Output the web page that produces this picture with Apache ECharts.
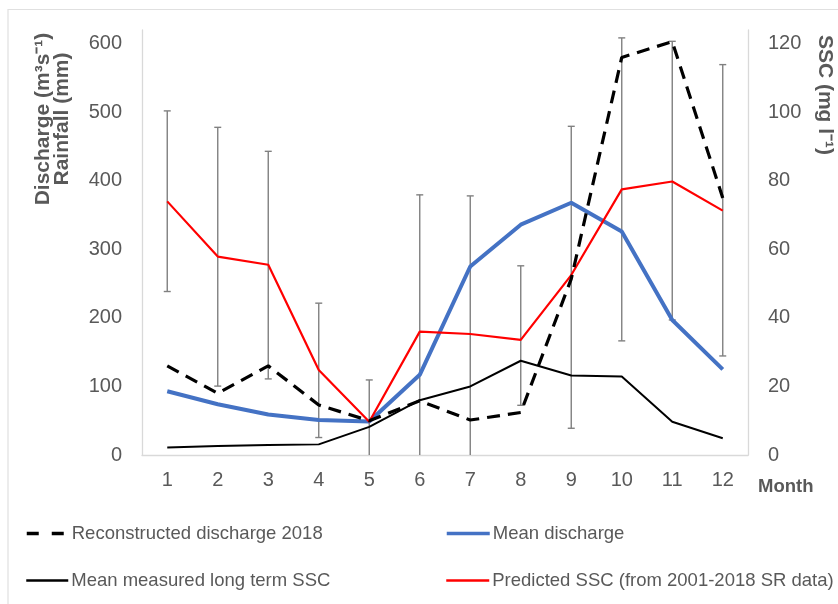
<!DOCTYPE html>
<html>
<head>
<meta charset="utf-8">
<script src="https://cdn.jsdelivr.net/npm/echarts@6/dist/echarts.min.js"></script>
<style>
html,body{margin:0;padding:0;background:#fff;}
#chart{width:838px;height:604px;}
</style>
</head>
<body>
<div id="chart"></div>
<script>
var months = ['1','2','3','4','5','6','7','8','9','10','11','12'];
var leftTicks = [0,100,200,300,400,500,600];
var rightTicks = [0,20,40,60,80,100,120];
// left axis (m3/s)
var reconstructed2018 = [130, 90, 130, 73, 50, 79, 51, 62, 257, 580, 603, 375];
var meanDischarge = [93, 74, 59, 51, 49, 117, 275, 336, 368, 326, 197, 125];
// right axis (mg/l)
var meanMeasuredSSC = [2.2, 2.6, 2.9, 3.1, 8.2, 16, 20, 27.5, 23.2, 22.9, 9.7, 4.9];
var predictedSSC = [74, 57.9, 55.5, 24.8, 9.7, 36, 35.3, 33.6, 52.5, 77.5, 79.8, 71.3];
var predictedLow = [47.7, 20.1, 22.2, 5.1, 0, 0, 0, 14.5, 7.8, 33.3, 39.4, 28.9];
var predictedHigh = [100.4, 95.6, 88.6, 44.3, 21.9, 75.9, 75.6, 55.2, 95.9, 121.7, 120.7, 113.9];

var FONT = "'Liberation Sans', Arial, sans-serif";
var TXT = '#595959';
var AX = '#d9d9d9';

var chart = echarts.init(document.getElementById('chart'));

var errData = months.map(function(m, i){ return [i, predictedLow[i], predictedHigh[i]]; });

function legendItem(name, left, top, w, ls){
  return {
    data: [{name: name, lineStyle: ls}], left: left, top: top, orient: 'horizontal', padding: 0,
    itemWidth: w, itemHeight: 14, itemGap: 0, selectedMode: false,
    itemStyle: {opacity: 0, borderWidth: 0},
    textStyle: {fontFamily: FONT, fontSize: 18.5, color: TXT, lineHeight: 21, padding: [0,0,0,-2]}
  };
}

var option = {
  backgroundColor: '#fff',
  animation: false,
  grid: {left: 142, right: 90, top: 30, height: 425},
  legend: [
    legendItem('Reconstructed discharge 2018', 25, 523, 42, {width: 3.5, type: [12, 13], color: '#000'}),
    legendItem('Mean discharge', 445, 523, 43, {width: 3.5, color: '#4472C4'}),
    legendItem('Mean measured long term SSC', 25, 570, 42, {width: 2.5, color: '#000'}),
    legendItem('Predicted SSC (from 2001-2018 SR data)', 445, 570, 43, {width: 2.5, color: '#ff0000'})
  ],
  xAxis: {
    type: 'category', data: months, boundaryGap: true,
    axisLine: {show: true, lineStyle: {color: AX, width: 1.3}},
    axisTick: {show: false},
    axisLabel: {fontFamily: FONT, fontSize: 20, color: TXT, margin: 15}
  },
  yAxis: [
    {
      type: 'value', min: 0, max: 620, interval: 100,
      axisLine: {show: true, lineStyle: {color: AX, width: 1.3}},
      axisTick: {show: false}, splitLine: {show: false},
      axisLabel: {fontFamily: FONT, fontSize: 20, color: TXT, margin: 20,
        formatter: function(v){ return leftTicks.indexOf(v) >= 0 ? String(v) : ''; }}
    },
    {
      type: 'value', min: 0, max: 124, interval: 20, position: 'right',
      axisLine: {show: true, lineStyle: {color: AX, width: 1.3}},
      axisTick: {show: false}, splitLine: {show: false},
      axisLabel: {fontFamily: FONT, fontSize: 20, color: TXT, margin: 20,
        formatter: function(v){ return rightTicks.indexOf(v) >= 0 ? String(v) : ''; }}
    }
  ],
  series: [
    {
      type: 'custom', name: 'err', yAxisIndex: 1, z: 1,
      data: errData, encode: {x: 0, y: [1, 2]},
      renderItem: function(params, api){
        var i = api.value(0);
        var top = api.coord([i, api.value(2)]);
        var bot = api.coord([i, api.value(1)]);
        var x = top[0];
        var st = {stroke: '#808080', lineWidth: 1.4};
        var ch = [
          {type: 'line', shape: {x1: x, y1: top[1], x2: x, y2: bot[1]}, style: st},
          {type: 'line', shape: {x1: x - 3.5, y1: top[1], x2: x + 3.5, y2: top[1]}, style: st}
        ];
        if (api.value(1) > 0) {
          ch.push({type: 'line', shape: {x1: x - 3.5, y1: bot[1], x2: x + 3.5, y2: bot[1]}, style: st});
        }
        return {type: 'group', children: ch};
      }
    },
    {
      name: 'Mean discharge', type: 'line', yAxisIndex: 0, data: meanDischarge,
      symbol: 'none', z: 3, color: '#4472C4',
      lineStyle: {color: '#4472C4', width: 4}
    },
    {
      name: 'Mean measured long term SSC', type: 'line', yAxisIndex: 1, data: meanMeasuredSSC,
      symbol: 'none', z: 3, color: '#000',
      lineStyle: {color: '#000', width: 2}
    },
    {
      name: 'Predicted SSC (from 2001-2018 SR data)', type: 'line', yAxisIndex: 1, data: predictedSSC,
      symbol: 'none', z: 4, color: '#ff0000',
      lineStyle: {color: '#ff0000', width: 2.2}
    },
    {
      name: 'Reconstructed discharge 2018', type: 'line', yAxisIndex: 0, data: reconstructed2018,
      symbol: 'none', z: 5, color: '#000',
      lineStyle: {color: '#000', width: 3.2, type: [13, 8]}
    }
  ],
  graphic: [
    {type: 'rect', silent: true, z: -1, shape: {x: 8, y: 9.5, width: 900, height: 700},
      style: {fill: 'none', stroke: '#e0e0e0', lineWidth: 1.2}},
    {type: 'text', x: 53, y: 119, rotation: Math.PI / 2,
      style: {text: 'Discharge (m\u00b3s\u207b\u00b9)\nRainfall (mm)', fontFamily: FONT, fontSize: 21,
        fontWeight: 'bold', fill: TXT, align: 'center', verticalAlign: 'middle', lineHeight: 19}},
    {type: 'text', x: 825, y: 95, rotation: -Math.PI / 2,
      style: {text: 'SSC (mg l\u207b\u00b9)', fontFamily: FONT, fontSize: 21,
        fontWeight: 'bold', fill: TXT, align: 'center', verticalAlign: 'middle'}},
    {type: 'text', x: 758, y: 487,
      style: {text: 'Month', fontFamily: FONT, fontSize: 18.5, fontWeight: 'bold', fill: TXT,
        align: 'left', verticalAlign: 'middle'}}
  ]
};
chart.setOption(option);
</script>
</body>
</html>
